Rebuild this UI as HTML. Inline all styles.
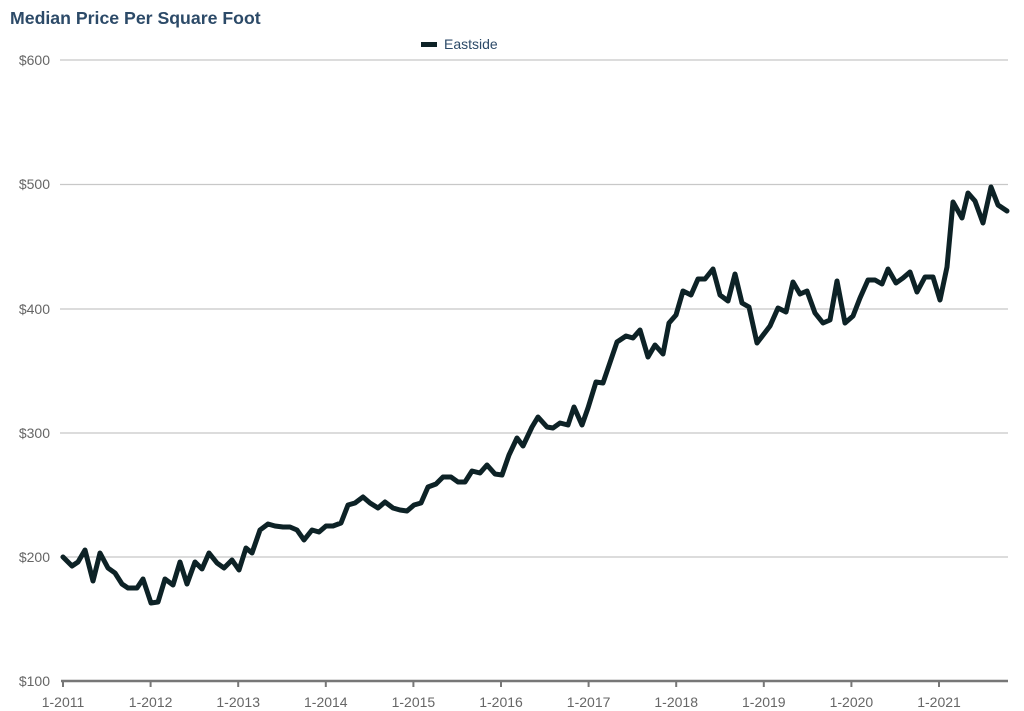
<!DOCTYPE html>
<html><head><meta charset="utf-8"><style>
html,body{margin:0;padding:0;background:#fff;}
svg{display:block;}
text{font-family:"Liberation Sans",Arial,sans-serif;}
</style></head><body>
<svg width="1024" height="711" viewBox="0 0 1024 711" xmlns="http://www.w3.org/2000/svg">
<text x="10" y="24" font-size="17.7" font-weight="bold" fill="#2c4a68">Median Price Per Square Foot</text>
<rect x="421" y="42" width="16" height="5" fill="#0d2226"/>
<text x="444" y="49" font-size="14" fill="#2c4a68">Eastside</text>
<g stroke="#c8c8c8" stroke-width="1.3">
<line x1="60" y1="60" x2="1008" y2="60"/>
<line x1="60" y1="184.5" x2="1008" y2="184.5"/>
<line x1="60" y1="309" x2="1008" y2="309"/>
<line x1="60" y1="433" x2="1008" y2="433"/>
<line x1="60" y1="557" x2="1008" y2="557"/>
</g>
<g font-size="14" fill="#666" text-anchor="end">
<text x="50" y="65">$600</text>
<text x="50" y="189">$500</text>
<text x="50" y="314">$400</text>
<text x="50" y="438">$300</text>
<text x="50" y="562">$200</text>
<text x="50" y="686">$100</text>
</g>
<line x1="61" y1="681" x2="1008" y2="681" stroke="#777" stroke-width="2.5"/>
<g stroke="#777" stroke-width="2">
<line x1="63" y1="681" x2="63" y2="687"/><line x1="150.6" y1="681" x2="150.6" y2="687"/><line x1="238.2" y1="681" x2="238.2" y2="687"/><line x1="325.8" y1="681" x2="325.8" y2="687"/><line x1="413.4" y1="681" x2="413.4" y2="687"/><line x1="501" y1="681" x2="501" y2="687"/><line x1="588.6" y1="681" x2="588.6" y2="687"/><line x1="676.2" y1="681" x2="676.2" y2="687"/><line x1="763.8" y1="681" x2="763.8" y2="687"/><line x1="851.4" y1="681" x2="851.4" y2="687"/><line x1="939" y1="681" x2="939" y2="687"/>
</g>
<g font-size="14" fill="#666" text-anchor="middle">
<text x="63" y="707">1-2011</text><text x="150.6" y="707">1-2012</text><text x="238.2" y="707">1-2013</text><text x="325.8" y="707">1-2014</text><text x="413.4" y="707">1-2015</text><text x="501" y="707">1-2016</text><text x="588.6" y="707">1-2017</text><text x="676.2" y="707">1-2018</text><text x="763.8" y="707">1-2019</text><text x="851.4" y="707">1-2020</text><text x="939" y="707">1-2021</text>
</g>
<polyline fill="none" stroke="#0d2226" stroke-width="5" stroke-linejoin="round" stroke-linecap="round" points="63,557 72,566 78,562 85,550 93,581 100,553 108,568 115,573 122,584 128,588 137,588 143,579 151,603 158,602 165,579 173,585 180,562 187,584 195,562 202,569 209,553 217,563 224,568 232,560 239,570 246,548 252,553 260,530 268,524 275,526 283,527 290,527 297,530 304,540 312,530 319,532 326,526 333,526 341,523 348,505 355,503 363,497 370,503 378,508 385,502 393,508 400,510 407,511 414,505 421,503 428,487 436,484 443,477 451,477 458,482 465,482 472,471 480,473 487,465 495,474 502,475 509,455 517,438 523,446 532,427 538,417 547,427 553,428 560,423 568,425 574,407 582,425 588,408 596,382 603,383 617,342 626,336 633,338 640,330 648,357 655,345 663,354 669,323 676,315 683,291 691,295 698,279 705,279 713,269 720,295 728,301 735,274 742,303 749,307 757,343 770,326 778,308 786,312 793,282 800,294 807,291 815,313 823,323 830,320 837,281 845,323 853,316 860,298 868,280 875,280 882,284 888,269 896,283 903,278 910,272 917,292 925,277 933,277 940,300 947,267 953,202 962,218 968,193 975,201 983,223 991,187 998,205 1007,211"/>
</svg>
</body></html>
